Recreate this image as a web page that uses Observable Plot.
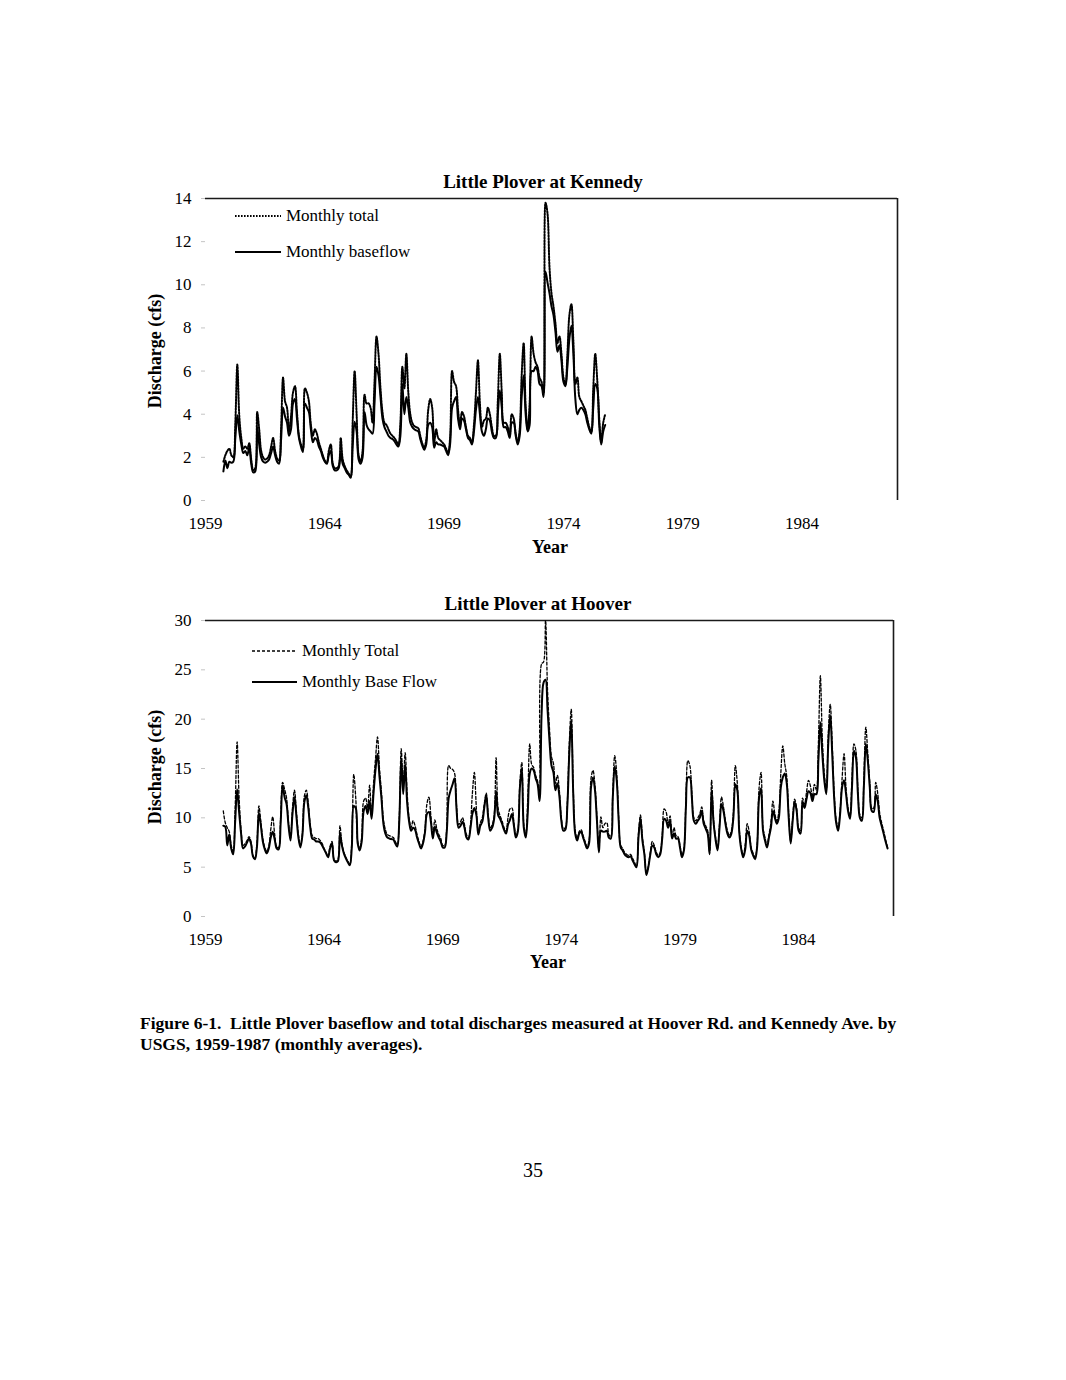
<!DOCTYPE html>
<html>
<head>
<meta charset="utf-8">
<script src="https://cdn.jsdelivr.net/npm/d3@7"></script>
<script src="https://cdn.jsdelivr.net/npm/@observablehq/plot@0.6"></script>
<style>
  html, body { margin: 0; padding: 0; background: #fff; }
  #page { position: relative; width: 1066px; height: 1380px; background: #fff;
          font-family: "Liberation Serif", "Times New Roman", serif; color: #000; overflow: hidden; }
  .abs { position: absolute; white-space: nowrap; }
  .title { font-weight: bold; font-size: 19px; line-height: 20px; text-align: center; }
  .axlab { font-weight: bold; font-size: 18px; line-height: 20px; text-align: center; }
  .leg { font-size: 17px; line-height: 20px; }
  .chart { position: absolute; }
  .chart svg g[aria-label="y-axis tick"] { stroke: #c4c4c4; }
</style>
</head>
<body>
<div id="page">
  <div class="abs title" style="left:343px;top:172px;width:400px;">Little Plover at Kennedy</div>
  <div class="abs axlab" style="left:450px;top:537px;width:200px;">Year</div>
  <div class="abs axlab" style="left:55px;top:341px;width:200px;transform:rotate(-90deg);">Discharge (cfs)</div>

  <div class="abs title" style="left:338px;top:594px;width:400px;">Little Plover at Hoover</div>
  <div class="abs axlab" style="left:448px;top:952px;width:200px;">Year</div>
  <div class="abs axlab" style="left:55px;top:757px;width:200px;transform:rotate(-90deg);">Discharge (cfs)</div>

  <div id="kennedy" class="chart" style="left:130px;top:165px;"></div>
  <div id="hoover" class="chart" style="left:130px;top:585px;"></div>

  <svg class="abs" style="left:235px;top:210px;" width="46" height="12"><line x1="0" y1="6" x2="46" y2="6" stroke="#000" stroke-width="2" stroke-dasharray="1.6 1.4"/></svg>
  <div class="abs leg" style="left:286px;top:206px;">Monthly total</div>
  <svg class="abs" style="left:235px;top:246px;" width="46" height="12"><line x1="0" y1="6" x2="46" y2="6" stroke="#000" stroke-width="2"/></svg>
  <div class="abs leg" style="left:286px;top:242px;">Monthly baseflow</div>

  <svg class="abs" style="left:252px;top:645px;" width="45" height="12"><line x1="0" y1="6" x2="45" y2="6" stroke="#000" stroke-width="1.3" stroke-dasharray="3 2"/></svg>
  <div class="abs leg" style="left:302px;top:641px;">Monthly Total</div>
  <svg class="abs" style="left:252px;top:676px;" width="45" height="12"><line x1="0" y1="6" x2="45" y2="6" stroke="#000" stroke-width="2"/></svg>
  <div class="abs leg" style="left:302px;top:672px;">Monthly Base Flow</div>

  <div class="abs" style="left:140px;top:1013px;font-weight:bold;font-size:17.5px;line-height:21px;">Figure 6-1.&nbsp; Little Plover baseflow and total discharges measured at Hoover Rd. and Kennedy Ave. by<br>USGS, 1959-1987 (monthly averages).</div>
  <div class="abs" style="left:483px;top:1159px;width:100px;text-align:center;font-size:20px;line-height:22px;">35</div>
</div>
<script>
// First month of both records: October 1959 (decimal year)
const startYear = 1959.75;

const xTicks = [1959, 1964, 1969, 1974, 1979, 1984];
const xDomain = [1959, 1988];
const kennedyYTicks = [0, 2, 4, 6, 8, 10, 12, 14];
const hooverYTicks = [0, 5, 10, 15, 20, 25, 30];

// Little Plover at Kennedy, monthly baseflow (cfs), Oct 1959 onward
const kennedyBase = [
  1.35,1.85,1.5,1.8,1.75,1.8,2.9,3.95,3.2,2.6,2.2,2.3,
  2.1,2.45,1.7,1.3,1.35,3.4,2.6,2.0,1.8,1.75,1.8,1.9,
  2.2,2.5,2.1,1.8,1.7,2.8,4.3,3.9,3.6,3.0,3.3,4.5,
  4.7,3.8,2.9,2.5,2.25,4.5,4.3,4.1,3.3,2.7,2.9,2.8,
  2.5,2.3,2.0,1.8,1.7,2.1,2.3,1.6,1.4,1.4,1.5,2.2,
  1.7,1.5,1.3,1.2,1.05,2.5,3.65,3.2,1.9,1.7,2.0,4.1,
  3.5,3.3,3.2,3.1,4.5,6.2,5.8,4.8,3.8,3.4,3.2,3.0,
  2.9,2.85,2.75,2.6,2.5,3.0,5.4,4.0,4.8,4.3,3.6,3.4,
  3.3,3.25,3.2,2.85,2.55,2.35,2.6,3.5,3.6,3.4,2.45,2.7,
  2.6,2.6,2.55,2.5,2.3,2.1,2.6,4.3,4.6,4.8,3.8,3.3,
  3.8,3.7,3.3,2.9,2.8,2.6,3.2,4.2,4.8,4.0,3.2,3.0,
  3.3,3.8,3.7,3.2,2.9,2.9,4.0,5.1,4.3,3.4,3.4,3.2,
  2.9,3.6,3.6,3.0,2.6,3.0,4.8,5.8,4.0,3.2,3.5,6.0,
  6.0,6.2,6.0,5.4,5.3,4.8,10.6,10.1,9.6,9.0,8.6,7.8,
  6.9,7.2,6.5,5.5,5.3,6.2,7.5,8.1,6.8,4.7,4.0,4.2,
  4.3,4.2,4.0,3.6,3.3,3.1,4.3,5.4,5.2,3.5,2.6,3.2,
  3.5
];

// Little Plover at Kennedy, monthly total discharge (cfs)
const kennedyTotal = [
  1.8,2.1,2.3,2.4,2.1,2.0,3.6,6.3,3.9,2.9,2.4,2.5,
  2.4,2.65,1.9,1.4,1.5,4.1,3.3,2.3,2.0,1.9,1.95,2.1,
  2.5,2.9,2.3,1.95,1.85,3.3,5.7,4.6,4.3,3.2,3.9,5.0,
  5.3,4.1,3.0,2.6,2.4,5.2,5.0,4.6,3.5,3.0,3.3,3.1,
  2.7,2.4,2.1,1.85,1.75,2.3,2.6,1.7,1.5,1.5,1.6,2.9,
  1.9,1.6,1.4,1.25,1.1,3.6,6.0,4.0,2.1,1.8,2.3,4.9,
  4.5,4.5,4.3,3.6,5.5,7.6,6.8,5.2,4.1,3.6,3.5,3.3,
  3.1,3.0,2.9,2.75,2.6,3.6,6.2,5.2,6.8,5.0,4.0,3.6,
  3.45,3.4,3.35,3.0,2.65,2.45,2.8,4.2,4.7,4.3,2.7,3.3,
  2.9,2.8,2.7,2.6,2.4,2.2,2.9,6.0,5.5,5.3,4.2,3.5,
  4.1,3.9,3.4,3.0,2.9,2.7,3.5,5.0,6.5,4.5,3.4,3.7,
  3.8,4.3,4.0,3.4,3.0,3.0,4.6,6.8,5.0,3.6,3.6,3.4,
  3.0,4.0,3.8,3.1,2.7,3.3,5.8,7.3,4.4,3.3,4.5,7.6,
  6.8,6.4,6.2,5.7,5.5,5.0,13.8,13.3,10.8,9.6,9.0,8.2,
  7.3,7.6,6.8,5.7,5.4,6.8,8.6,9.1,7.4,5.4,5.7,4.8,
  4.6,4.4,4.2,3.8,3.4,3.2,5.2,6.8,5.6,3.8,2.7,3.6,
  4.0
];

// Little Plover at Hoover, monthly base flow (cfs), Oct 1959 onward
const hooverBase = [
  9.2,9.1,7.2,8.3,6.9,6.3,9.6,12.9,10.6,8.4,6.9,7.1,
  7.5,7.9,7.4,6.1,5.8,7.0,10.5,9.2,7.6,6.8,6.4,6.9,
  8.0,8.6,7.8,6.9,6.8,9.4,13.3,12.1,11.4,9.2,7.7,10.4,
  12.1,10.1,8.0,7.0,8.2,11.6,12.3,11.0,9.0,7.9,7.8,7.6,
  7.6,7.5,7.2,6.8,6.4,6.0,6.9,7.4,5.7,5.5,5.6,8.4,
  7.2,6.4,5.9,5.5,5.2,7.0,11.2,11.0,7.4,6.7,7.6,10.7,
  11.2,10.4,11.7,9.9,12.5,14.9,16.5,14.2,12.0,9.4,8.4,8.0,
  7.9,7.85,7.8,7.4,7.1,9.6,16.0,12.4,15.4,11.5,9.6,8.7,
  9.0,8.8,8.0,7.4,6.9,7.4,8.5,10.4,10.6,9.6,7.9,9.1,
  8.5,8.0,7.6,7.0,7.0,8.5,12.0,12.8,13.4,14.0,10.8,9.0,
  9.2,9.6,9.0,8.0,7.8,8.9,10.4,11.0,10.3,8.3,9.2,9.6,
  11.0,12.3,10.0,8.7,9.0,9.9,12.7,10.3,9.9,9.4,8.8,8.4,
  9.3,9.8,10.4,9.2,8.0,8.6,13.0,15.0,9.0,8.0,10.5,14.5,
  15.0,14.8,14.0,13.4,11.7,20.5,23.7,24.0,21.0,17.8,15.3,14.6,
  12.8,13.5,12.2,9.7,8.7,8.8,11.1,16.5,19.9,12.5,8.4,7.7,
  8.4,8.6,8.0,7.4,6.9,7.4,13.1,14.1,12.8,9.7,6.5,8.7,
  8.6,8.6,8.7,8.0,7.9,12.0,15.2,13.8,9.7,7.0,6.7,6.3,
  6.1,6.0,6.1,5.7,5.3,5.0,8.0,9.9,7.7,6.3,4.2,5.0,
  6.3,7.2,7.0,6.3,6.0,6.3,7.9,9.9,9.7,9.0,9.7,7.9,
  8.4,7.9,7.9,7.0,6.0,6.7,11.1,14.1,14.1,12.1,9.7,9.4,
  9.7,10.0,10.7,9.4,8.9,8.4,6.3,12.8,9.5,7.8,6.7,9.0,
  11.4,10.7,9.4,8.4,8.0,8.4,10.0,13.4,12.8,8.5,6.8,6.0,
  6.8,8.7,8.2,6.8,6.2,5.8,7.0,12.0,13.0,8.7,7.7,7.0,
  8.0,9.0,10.7,10.0,9.4,10.0,13.1,14.1,14.5,13.5,10.0,7.4,
  9.7,11.6,10.7,8.7,8.4,11.6,11.0,11.9,12.7,12.5,11.7,12.4,
  12.4,15.8,19.7,16.5,13.8,12.4,17.5,20.4,16.5,12.0,9.5,8.7,
  10.4,13.1,13.8,12.4,10.7,9.9,13.1,16.8,16.1,12.4,10.0,9.7,
  13.1,17.5,15.8,13.1,10.7,10.6,12.4,11.7,10.0,9.2,8.4,7.6,
  6.9
];

// Little Plover at Hoover, monthly total discharge (cfs)
const hooverTotal = [
  10.7,9.5,9.0,8.6,7.2,6.6,11.0,17.7,12.0,8.8,7.2,7.4,
  7.7,8.1,7.6,6.2,5.9,7.4,11.2,9.6,7.9,7.0,6.6,7.1,
  8.8,10.1,8.3,7.1,7.0,10.0,13.6,12.9,12.0,9.5,8.0,11.0,
  12.8,10.6,8.3,7.2,8.4,12.2,12.8,11.5,9.3,8.2,8.0,7.9,
  7.9,7.7,7.4,6.9,6.5,6.1,7.1,7.6,5.8,5.6,5.8,9.2,
  7.4,6.5,6.0,5.6,5.3,7.6,14.4,12.0,7.6,6.9,8.0,11.7,
  12.0,11.0,13.3,10.5,13.5,16.0,18.2,15.0,12.6,9.8,8.8,8.3,
  8.2,8.1,8.0,7.6,7.3,10.0,17.0,13.5,16.6,12.5,10.0,9.0,
  9.7,9.2,8.3,7.6,7.1,7.6,8.8,11.4,12.1,10.2,8.2,9.8,
  8.9,8.3,7.9,7.2,7.2,9.0,15.3,15.0,14.9,14.5,11.2,9.3,
  9.6,10.0,9.3,8.3,8.0,9.3,12.5,14.6,11.0,8.6,9.5,10.0,
  11.4,12.5,10.3,9.0,9.3,10.2,16.1,11.0,10.2,9.7,9.0,8.7,
  10.0,10.9,11.0,9.5,8.3,8.8,13.5,15.6,9.3,8.3,12.0,17.5,
  15.4,15.1,14.3,13.7,12.2,25.6,25.8,30.0,23.0,19.0,16.2,15.5,
  13.5,14.3,12.7,10.0,8.9,9.0,11.5,17.5,21.0,13.0,8.7,7.9,
  8.6,8.8,8.2,7.6,7.1,7.7,14.0,14.8,13.3,10.0,6.8,10.1,
  9.0,9.4,9.5,8.3,8.1,12.5,16.3,14.5,10.0,7.2,6.9,6.5,
  6.3,6.2,6.3,5.9,5.5,5.1,8.4,10.3,8.0,6.5,4.3,5.1,
  6.5,7.6,7.2,6.5,6.2,6.5,8.2,10.9,10.6,9.3,10.2,8.2,
  9.0,8.2,8.1,7.2,6.2,6.9,11.8,15.8,15.3,12.5,10.0,9.7,
  10.0,10.4,11.1,9.7,9.2,8.7,6.5,13.8,9.8,8.0,6.9,9.4,
  12.1,11.1,9.7,8.7,8.2,8.7,10.5,15.3,13.5,8.8,7.0,6.2,
  7.3,9.4,8.6,7.0,6.4,6.0,7.3,13.0,14.6,9.0,8.0,7.2,
  8.3,9.5,11.7,10.4,9.7,10.6,14.5,17.3,15.5,14.2,10.4,7.6,
  10.0,11.9,11.0,9.0,8.7,12.0,11.4,12.6,13.8,13.2,12.1,13.4,
  12.8,17.5,24.4,18.0,14.5,12.8,18.5,21.5,17.5,12.5,9.8,9.0,
  10.8,14.0,16.5,13.0,11.0,10.2,14.0,17.5,16.8,12.8,10.3,10.0,
  14.0,19.2,16.5,13.6,11.0,11.0,13.6,12.5,10.5,9.5,8.7,7.8,
  7.0
];

function rows(values) {
  return values.map((v, i) => ({ t: startYear + i / 12, v }));
}

function makeChart({ base, total, yMax, yTicks, width, height, mt, mb, ml, mr, dash, dashWidth }) {
  return Plot.plot({
    width, height,
    marginTop: mt, marginBottom: mb, marginLeft: ml, marginRight: mr,
    style: { fontFamily: "Liberation Serif, Times New Roman, serif", fontSize: "17px", color: "#000", background: "transparent", overflow: "visible" },
    x: { domain: xDomain, ticks: xTicks, tickFormat: d => String(d), tickSize: 0, tickPadding: 16, label: null },
    y: { domain: [0, yMax], ticks: yTicks, tickSize: 4, tickPadding: 10, label: null },
    marks: [
      Plot.ruleY([yMax], { stroke: "#1a1a1a", strokeWidth: 1.6 }),
      Plot.ruleX([xDomain[1]], { stroke: "#1a1a1a", strokeWidth: 1.6 }),
      Plot.lineY(rows(total), { x: "t", y: "v", stroke: "#000", strokeWidth: dashWidth, strokeDasharray: dash, curve: "catmull-rom" }),
      Plot.lineY(rows(base), { x: "t", y: "v", stroke: "#000", strokeWidth: 2, curve: "catmull-rom" })
    ]
  });
}

document.getElementById("kennedy").append(makeChart({
  base: kennedyBase, total: kennedyTotal, yMax: 14, yTicks: kennedyYTicks,
  width: 790, height: 400, mt: 33, mb: 65, ml: 75, mr: 23,
  dash: "1.6 1.4", dashWidth: 2
}));

document.getElementById("hoover").append(makeChart({
  base: hooverBase, total: hooverTotal, yMax: 30, yTicks: hooverYTicks,
  width: 790, height: 400, mt: 35, mb: 69, ml: 75, mr: 27,
  dash: "3 2", dashWidth: 1.3
}));
</script>
</body>
</html>
